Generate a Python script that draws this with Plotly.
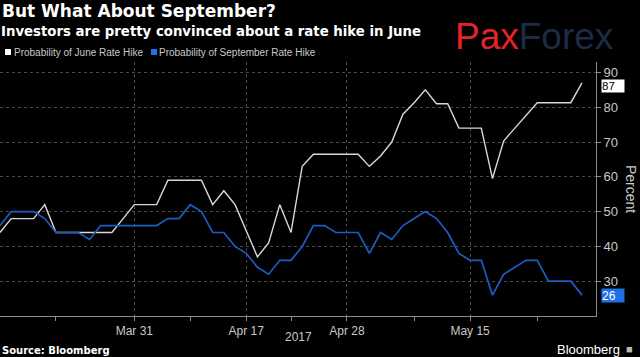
import plotly.graph_objects as go

dates = ["2017-03-15","2017-03-16","2017-03-17","2017-03-20","2017-03-21","2017-03-22","2017-03-23","2017-03-24",
         "2017-03-27","2017-03-28","2017-03-29","2017-03-30","2017-03-31",
         "2017-04-03","2017-04-04","2017-04-05","2017-04-06","2017-04-07","2017-04-10","2017-04-11","2017-04-12","2017-04-13",
         "2017-04-17","2017-04-18","2017-04-19","2017-04-20","2017-04-21","2017-04-24","2017-04-25","2017-04-26","2017-04-27","2017-04-28",
         "2017-05-01","2017-05-02","2017-05-03","2017-05-04","2017-05-05","2017-05-08","2017-05-09","2017-05-10","2017-05-11","2017-05-12",
         "2017-05-15","2017-05-16","2017-05-17","2017-05-18","2017-05-19","2017-05-22","2017-05-23","2017-05-24","2017-05-25","2017-05-26",
         "2017-05-30"]
june_hike = [44,48,48,48,52,44,44,44,44,44,44,48,52,52,52,59,59,59,59,52,56,52,44.5,37,41,52,44,63,
             66.5,66.5,66.5,66.5,66.5,63,66,70,78,81.3,85,81,81,74,74,74,59.5,70.3,74,77.6,81.3,81.3,81.3,81.3,87]
sept_hike = [46,50,50,50,48,44,44,44,42,46,46,46,46,46,46,48,48,52,50,44,44,40,38,34,32,36,36,40,
             46,46,44,44,44,38,44,42,46,48,50,48,44,38,36,36,26,32,34,36,36,30,30,30,26]
series_names = ["Probability of June Rate Hike", "Probability of September Rate Hike"]
major_ticks = ["2017-03-31", "2017-04-17", "2017-04-28", "2017-05-15"]
major_labels = ["Mar 31", "Apr 17", "Apr 28", "May 15"]
minor_ticks = ["2017-03-22", "2017-04-07", "2017-04-21", "2017-05-08", "2017-05-23"]
y_ticks = [30, 40, 50, 60, 70, 80, 90]

WHITE = "#d8d8d8"
BLUE = "#1d5cc2"
BLUE_BRIGHT = "#1f6fe5"
GRID = "#4a4a4a"
AXIS = "#8a8a8a"
TXT = "#c8c8c8"
LEG_FONT = "Liberation Sans, Arial, sans-serif"

fig = go.Figure()
fig.add_trace(go.Scatter(x=dates, y=june_hike, mode="lines", name=series_names[0],
                         line=dict(color=WHITE, width=1.4), showlegend=False))
fig.add_trace(go.Scatter(x=dates, y=sept_hike, mode="lines", name=series_names[1],
                         line=dict(color=BLUE, width=1.7), showlegend=False))

fig.update_layout(
    width=640, height=357,
    paper_bgcolor="black", plot_bgcolor="black",
    margin=dict(l=0, r=44, t=62, b=41, autoexpand=False),
    font=dict(family="Liberation Sans, Arial, sans-serif", color=TXT, size=12),
    showlegend=False,
    xaxis=dict(
        type="date",
        range=["2017-03-15", "2017-05-31 06:00"],
        rangebreaks=[dict(bounds=["sat", "mon"]), dict(values=["2017-04-14", "2017-05-29"])],
        tickmode="array", tickvals=major_ticks, ticktext=major_labels,
        showgrid=True, gridcolor=GRID, griddash="dot", gridwidth=1,
        showline=True, linecolor=AXIS, linewidth=1,
        ticks="outside", ticklen=4, tickcolor=AXIS,
        tickfont=dict(size=12, color=TXT),
        minor=dict(tickmode="array", tickvals=minor_ticks, ticks="outside", ticklen=4, tickcolor=AXIS, showgrid=False),
        zeroline=False, fixedrange=True,
    ),
    yaxis=dict(
        side="right", range=[20, 93],
        tickmode="array", tickvals=y_ticks,
        showgrid=True, gridcolor=GRID, griddash="dot", gridwidth=1,
        showline=True, linecolor=AXIS, linewidth=1,
        ticks="outside", ticklen=4, tickcolor=AXIS,
        tickfont=dict(size=13, color=TXT),
        zeroline=False, fixedrange=True,
    ),
)

# legend swatches
fig.add_shape(type="rect", xref="paper", yref="paper", xsizemode="pixel", ysizemode="pixel",
              xanchor=0, yanchor=1, x0=5, x1=11, y0=7, y1=13, fillcolor="white", line=dict(width=0))
fig.add_shape(type="rect", xref="paper", yref="paper", xsizemode="pixel", ysizemode="pixel",
              xanchor=0, yanchor=1, x0=151, x1=157, y0=7, y1=13, fillcolor=BLUE_BRIGHT, line=dict(width=0))

annotations = [
    dict(text="<b>But What About September?</b>", x=0, y=1, xref="paper", yref="paper",
         xanchor="left", yanchor="middle", xshift=0, yshift=51, showarrow=False,
         font=dict(family="DejaVu Sans", size=17, color="white")),
    dict(text="<b>Investors are pretty convinced about a rate hike in June</b>", x=0, y=1, xref="paper", yref="paper",
         xanchor="left", yanchor="middle", xshift=-1, yshift=31, showarrow=False,
         font=dict(family="DejaVu Sans", size=13.3, color="white")),
    dict(text=series_names[0], x=0, y=1, xref="paper", yref="paper", xanchor="left", yanchor="middle",
         xshift=12, yshift=10, showarrow=False, font=dict(family=LEG_FONT, size=10, color=TXT)),
    dict(text=series_names[1], x=0, y=1, xref="paper", yref="paper", xanchor="left", yanchor="middle",
         xshift=157, yshift=10, showarrow=False, font=dict(family=LEG_FONT, size=10, color=TXT)),
    dict(text="<span style='color:#e5232b'>Pax</span><span style='color:#1d2b45'>Forex</span>",
         x=0, y=1, xref="paper", yref="paper", xanchor="center", yanchor="middle",
         xshift=534, yshift=26, showarrow=False,
         font=dict(family="Liberation Sans", size=37, color="#e5232b")),
    dict(text="Percent", x=1, y=0.5, xref="paper", yref="paper", xanchor="center", yanchor="middle",
         xshift=35, showarrow=False, textangle=90, font=dict(size=14, color=TXT)),
    dict(text="2017", x=0.5, y=0, xref="paper", yref="paper", xanchor="center", yanchor="middle",
         yshift=-21, showarrow=False, font=dict(size=12, color=TXT)),
    dict(text="<b>Source: Bloomberg</b>", x=0, y=0, xref="paper", yref="paper",
         xanchor="left", yanchor="middle", xshift=0, yshift=-34, showarrow=False,
         font=dict(family="DejaVu Sans", size=10, color="white")),
    dict(text="Bloomberg", x=1, y=0, xref="paper", yref="paper", xanchor="right", yanchor="middle",
         yshift=-33, xshift=26, showarrow=False,
         font=dict(family="Liberation Sans", size=13, color="white")),
    dict(text="<b>■</b>", x=1, y=0, xref="paper", yref="paper", xanchor="left", yanchor="middle",
         yshift=-33, xshift=28, showarrow=False, font=dict(size=11, color="#bbbbbb")),
    dict(text=str(june_hike[-1]), x=1, y=june_hike[-1], xref="paper", yref="y",
         xanchor="left", yanchor="middle", xshift=5, yshift=-3, showarrow=False,
         bgcolor="white", borderpad=0, width=22, height=12, align="left",
         font=dict(size=11.5, color="black")),
    dict(text=str(sept_hike[-1]), x=1, y=sept_hike[-1], xref="paper", yref="y",
         xanchor="left", yanchor="middle", xshift=5, showarrow=False,
         bgcolor=BLUE_BRIGHT, borderpad=0, width=22, height=13, align="left",
         font=dict(size=12, color="white")),
]
fig.update_layout(annotations=annotations)

fig.write_html("out.html", config={"displayModeBar": False},
               post_script="document.body.style.margin='0';document.body.style.overflow='hidden';")
